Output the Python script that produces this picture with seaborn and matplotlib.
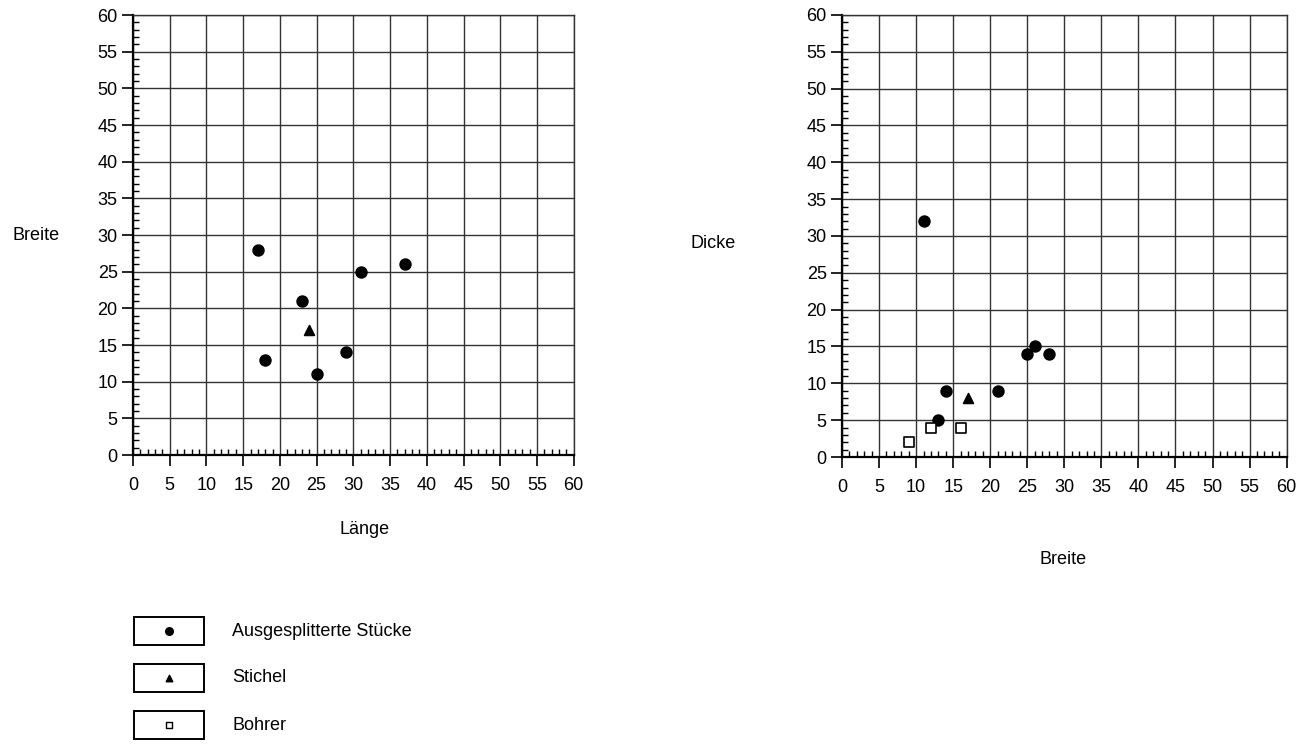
import matplotlib
matplotlib.use("Agg")
import matplotlib.pyplot as plt
import seaborn as sns
import pandas as pd
from matplotlib.patches import Rectangle
from matplotlib.ticker import MultipleLocator

# ---- data ----
categories = ["Ausgesplitterte Stücke", "Stichel", "Bohrer"]

left_cat = ["Ausgesplitterte Stücke"] * 7 + ["Stichel"]
left_laenge = [17, 18, 23, 25, 29, 31, 37, 24]
left_breite = [28, 13, 21, 11, 14, 25, 26, 17]

right_cat = ["Ausgesplitterte Stücke"] * 7 + ["Stichel"] + ["Bohrer"] * 3
right_breite = [11, 13, 14, 21, 25, 26, 28, 17, 9, 12, 16]
right_dicke = [32, 5, 9, 9, 14, 15, 14, 8, 2, 4, 4]

ticks = list(range(0, 61, 5))

sns.set_theme(style="white")
plt.rcParams['font.family'] = ['Liberation Sans', 'DejaVu Sans']
plt.rcParams['text.color'] = 'black'
plt.rcParams['axes.labelcolor'] = 'black'
plt.rcParams['xtick.color'] = 'black'
plt.rcParams['ytick.color'] = 'black'

markers = {"Ausgesplitterte Stücke": "o", "Stichel": "^", "Bohrer": "s"}
palette = {"Ausgesplitterte Stücke": "black", "Stichel": "black", "Bohrer": "white"}
sizes = {"Ausgesplitterte Stücke": 60, "Stichel": 50, "Bohrer": 45}

fig = plt.figure(figsize=(13, 7.56), dpi=100)
ax1 = fig.add_axes([0.1023, 0.398, 0.339, 0.582])
ax2 = fig.add_axes([0.6477, 0.3955, 0.342, 0.5847])

df_l = pd.DataFrame({"x": left_laenge, "y": left_breite, "cat": left_cat})
df_r = pd.DataFrame({"x": right_breite, "y": right_dicke, "cat": right_cat})

for ax, df in [(ax1, df_l), (ax2, df_r)]:
    ax.set_axisbelow(True)
    for c in categories:
        sub = df[df.cat == c]
        if len(sub) == 0:
            continue
        sns.scatterplot(data=sub, x="x", y="y", ax=ax, marker=markers[c],
                        color=palette[c], edgecolor="black", linewidth=1.2,
                        s=sizes[c], legend=False, zorder=3)
    ax.set_xlim(0, 60)
    ax.set_ylim(0, 60)
    ax.set_xticks(ticks)
    ax.set_yticks(ticks)
    ax.xaxis.set_minor_locator(MultipleLocator(1))
    ax.yaxis.set_minor_locator(MultipleLocator(1))
    ax.grid(True, which="major", color="#333333", linewidth=1.0)
    ax.tick_params(axis="both", which="major", direction="out", length=8, width=1.2,
                   labelsize=13, colors="black", labelcolor="black", bottom=True, left=True)
    ax.tick_params(axis="x", which="major", pad=8)
    ax.tick_params(axis="y", which="major", pad=3)
    ax.tick_params(axis="both", which="minor", direction="in", length=4, width=1.0,
                   bottom=True, left=True, colors="black")
    for side in ["top", "right"]:
        ax.spines[side].set_visible(True)
        ax.spines[side].set_color("#333333")
        ax.spines[side].set_linewidth(1.0)
    for side in ["left", "bottom"]:
        ax.spines[side].set_color("black")
        ax.spines[side].set_linewidth(1.6)
    ax.set_xlabel("")
    ax.set_ylabel("")

fig.text(36 / 1300, 1 - 235 / 756, "Breite", fontsize=13, ha="center", va="center", color="black")
fig.text(365 / 1300, 1 - 530 / 756, "Länge", fontsize=13, ha="center", va="center", color="black")
fig.text(713 / 1300, 1 - 243 / 756, "Dicke", fontsize=13, ha="center", va="center", color="black")
fig.text(1063 / 1300, 1 - 560 / 756, "Breite", fontsize=13, ha="center", va="center", color="black")

# ---- legend ----
leg = fig.add_axes([0, 0, 1, 1], facecolor="none")
leg.set_xlim(0, 1300)
leg.set_ylim(756, 0)
leg.axis("off")
box_tops = [617, 664, 711]
for c, top in zip(categories, box_tops):
    leg.add_patch(Rectangle((134, top), 70, 28, fill=False, edgecolor="black", linewidth=1.4))
    leg.scatter([169], [top + 14], marker=markers[c], color=palette[c], edgecolor="black",
                linewidth=1.0, s={"Ausgesplitterte Stücke": 30, "Stichel": 22, "Bohrer": 20}[c])
    leg.text(232, top + 14, c, fontsize=13, ha="left", va="center", color="black")

fig.savefig("out.png", dpi=100)
